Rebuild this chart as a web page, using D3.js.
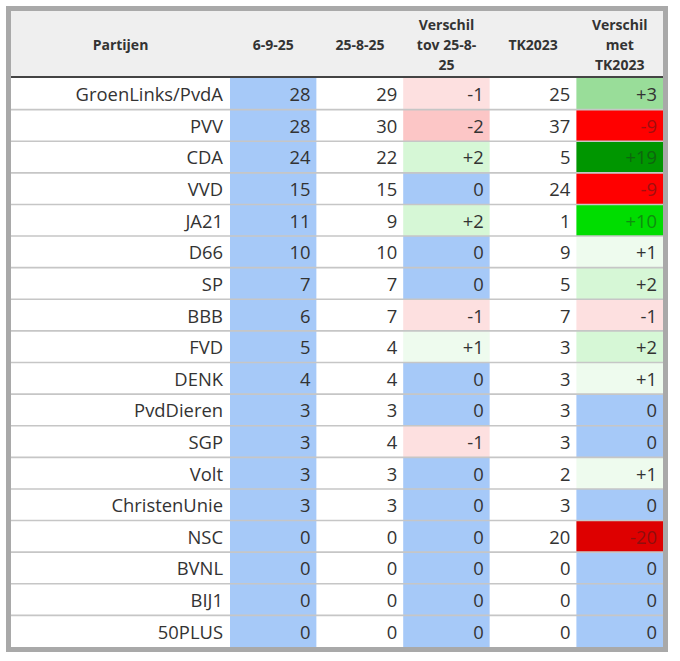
<!DOCTYPE html>
<html><head><meta charset="utf-8">
<script src="https://cdn.jsdelivr.net/npm/d3@7"></script>
<style>
html,body{margin:0;padding:0;background:#fff;}
svg{display:block;}
</style></head>
<body>
<svg id="chart" width="680" height="661"></svg>
<script>
const parties = ["GroenLinks/PvdA","PVV","CDA","VVD","JA21","D66","SP","BBB","FVD","DENK","PvdDieren","SGP","Volt","ChristenUnie","NSC","BVNL","BIJ1","50PLUS"];
const poll_6_9_25 = [28,28,24,15,11,10,7,6,5,4,3,3,3,3,0,0,0,0];
const poll_25_8_25 = [29,30,22,15,9,10,7,7,4,4,3,4,3,3,0,0,0,0];
const diff_25_8_25 = [-1,-2,2,0,2,0,0,-1,1,0,0,-1,0,0,0,0,0,0];
const tk2023 = [25,37,5,24,1,9,5,7,3,3,3,3,2,3,20,0,0,0];
const diff_tk2023 = [3,-9,19,-9,10,1,2,-1,2,1,0,0,1,0,-20,0,0,0];
const headers = [["Partijen"],["6-9-25"],["25-8-25"],["Verschil","tov 25-8-","25"],["TK2023"],["Verschil","met","TK2023"]];

const svg = d3.select("#chart");
const L = 11, R = 663, T = 11, B = 647, headB = 77, partyR = 230;
const BLUE = "#a6c9f8";

const diffColor = d3.scaleThreshold()
  .domain([-15,-5,-1.5,-0.5,0.5,1.5,2.5,5,15])
  .range(["#de0000","#ff0000","#fcc6c6","#fde0e0",BLUE,"#eefbee","#d6f7d6","#99dd99","#00dd00","#009600"]);

const cols = ["poll_6_9_25","poll_25_8_25","diff_25_8_25","tk2023","diff_tk2023"];
const x = d3.scaleBand().domain(cols).range([partyR, R]);
const y = d3.scaleBand().domain(parties).range([headB + 1, B]);

const fmt = v => v > 0 ? "+" + v : String(v);
const rows = parties.map((p,i)=>({party:p, cells:[
  {col:"poll_6_9_25", v:poll_6_9_25[i], text:String(poll_6_9_25[i]), bg:BLUE},
  {col:"poll_25_8_25", v:poll_25_8_25[i], text:String(poll_25_8_25[i]), bg:"#fff"},
  {col:"diff_25_8_25", v:diff_25_8_25[i], text:fmt(diff_25_8_25[i]), bg:diffColor(diff_25_8_25[i]), diff:true},
  {col:"tk2023", v:tk2023[i], text:String(tk2023[i]), bg:"#fff"},
  {col:"diff_tk2023", v:diff_tk2023[i], text:fmt(diff_tk2023[i]), bg:diffColor(diff_tk2023[i]), diff:true}
]}));

// frame
svg.append("rect").attr("x",8.5).attr("y",8.5).attr("width",R-L+5).attr("height",B-T+5)
  .attr("fill","#fff").attr("stroke","#a9a9a9").attr("stroke-width",5);
// header bg
svg.append("rect").attr("x",L).attr("y",T).attr("width",R-L).attr("height",headB-T).attr("fill","#efefef");

const FONT = "'Open Sans', sans-serif";
// header text
const hx = [ (L+partyR)/2, ...cols.map(c=>x(c)+x.bandwidth()/2) ];
headers.forEach((lines,j)=>{
  const n = lines.length, lh = 20, cy = (T+headB)/2 + 1;
  const t = svg.append("text").attr("x",hx[j]).attr("text-anchor","middle")
    .attr("font-family",FONT).attr("font-weight",700).attr("font-size",14).attr("fill","#333");
  lines.forEach((s,k)=>{
    t.append("tspan").attr("x",hx[j]).attr("y", cy + (k-(n-1)/2)*lh).attr("dy","0.35em").text(s);
  });
});

// rows
const g = svg.append("g");
const rowG = g.selectAll("g.row").data(rows).join("g").attr("class","row")
  .attr("transform",d=>`translate(0,${y(d.party)})`);
rowG.selectAll("rect.cell").data(d=>d.cells).join("rect").attr("class","cell")
  .attr("x",d=>x(d.col)).attr("y",0).attr("width",x.bandwidth()).attr("height",y.bandwidth())
  .attr("fill",d=>d.bg);
rowG.append("text").attr("x",partyR-7).attr("y",y.bandwidth()/2+1).attr("dy","0.35em")
  .attr("text-anchor","end").attr("font-family",FONT).attr("font-size",18.4).attr("fill","#333")
  .text(d=>d.party);
rowG.selectAll("text.val").data(d=>d.cells).join("text").attr("class","val")
  .attr("x",d=>x(d.col)+x.bandwidth()-6).attr("y",y.bandwidth()/2+1).attr("dy","0.35em")
  .attr("text-anchor","end").attr("font-family",FONT).attr("font-size",18.4)
  .attr("fill",d=> (d.diff && Math.abs(d.v)>=5) ? d3.interpolateRgb(d.bg,"#222")(0.42) : "#333")
  .text(d=>d.text);

// row separators
svg.selectAll("line.sep").data(parties.slice(1)).join("line").attr("class","sep")
  .attr("x1",L).attr("x2",R).attr("y1",d=>y(d)).attr("y2",d=>y(d))
  .attr("stroke","#c6c6c6").attr("stroke-width",1.6);
// header bottom line
svg.append("line").attr("x1",L).attr("x2",R).attr("y1",headB).attr("y2",headB)
  .attr("stroke","#444").attr("stroke-width",2);
</script>
</body></html>
